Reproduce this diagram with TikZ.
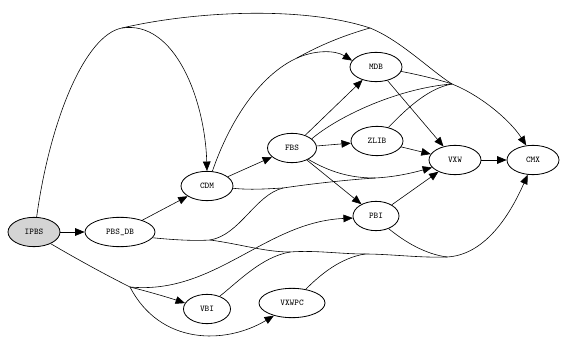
\documentclass[tikz,border=0pt]{standalone}
\usepackage{tikz}
\usetikzlibrary{arrows.meta,shapes.geometric}

\begin{document}
\begin{tikzpicture}[x=0.03cm, y=-0.03cm,
    nd/.style={draw, ellipse, line width=0.7pt, inner sep=0pt, minimum width=1.56cm, minimum height=0.88cm, font=\ttfamily\fontsize{7.5}{8}\selectfont},
    arr/.style={-{Triangle[length=8pt,width=6.5pt]}, line width=0.5pt},
    ln/.style={line width=0.5pt}
]
\useasboundingbox (0,0) rectangle (565,344);
\node[nd, fill=black!17] (IPBS) at (34,232) {IPBS};
\node[nd, minimum width=2.1cm] (PBSDB) at (120,232) {PBS\_DB};
\node[nd] (CDM) at (207,186) {CDM};
\node[nd, minimum width=1.47cm] (FBS) at (292,148) {FBS};
\node[nd] (MDB) at (376,67) {MDB};
\node[nd] (ZLIB) at (377,141) {ZLIB};
\node[nd] (VXW) at (455,160) {VXW};
\node[nd] (CMX) at (533,160) {CMX};
\node[nd, minimum width=1.38cm] (PBI) at (376,216) {PBI};
\node[nd, minimum width=1.41cm] (VBI) at (207,309) {VBI};
\node[nd, minimum width=1.98cm] (VXWPC) at (292,303) {VXWPC};

% merge points of the concentrated edges
\coordinate (jTop) at (122,28);
\coordinate (jA) at (370,28);
\coordinate (jB) at (452,84);
\coordinate (jC) at (297,58);
\coordinate (jD) at (130,287);
\coordinate (jE) at (210,240);
\coordinate (jF) at (283,188);
\coordinate (jG) at (375,178);
\coordinate (jH) at (290,252);
\coordinate (jI) at (365,254);
\coordinate (jK) at (447,257);

\draw[arr] (IPBS) -- (PBSDB);
\draw[arr] (PBSDB) -- (CDM);
\draw[arr] (CDM) -- (FBS);
\draw[arr] (FBS) -- (MDB);
\draw[arr] (FBS) -- (ZLIB);
\draw[arr] (FBS) -- (PBI);
\draw[arr] (MDB) -- (VXW);
\draw[arr] (ZLIB) -- (VXW);
\draw[arr] (PBI) -- (VXW);
\draw[arr] (VXW) -- (CMX);

% upper part
\draw[ln] (IPBS.80) .. controls (50,120) and (85,35) .. (jTop);
\draw[arr] (jTop) .. controls (175,20) and (205,100) .. (CDM.north);
\draw[ln] (jTop) .. controls (190,12) and (300,5) .. (jA);
\draw[ln] (CDM.70) .. controls (230,120) and (260,75) .. (jC);
\draw[arr] (jC) .. controls (315,50) and (335,50) .. (MDB.165);
\draw[ln] (jC) .. controls (320,45) and (345,35) .. (jA);
\draw[ln] (jA) .. controls (400,40) and (430,70) .. (jB);
\draw[ln] (MDB.-10) .. controls (420,75) and (440,80) .. (jB);
\draw[ln] (FBS.25) .. controls (340,115) and (400,88) .. (jB);
\draw[ln] (ZLIB.50) .. controls (410,105) and (430,88) .. (jB);
\draw[arr] (jB) .. controls (480,95) and (510,120) .. (CMX.115);

% lower part
\draw[ln] (IPBS.-35) .. controls (70,255) and (100,272) .. (jD);
\draw[arr] (jD) .. controls (150,292) and (170,298) .. (VBI.165);
\draw[arr] (jD) .. controls (160,345) and (225,345) .. (VXWPC.215);
\draw[arr] (jD) .. controls (215,295) and (265,222) .. (PBI.185);
\draw[ln] (PBSDB.-10) .. controls (175,240) and (195,241) .. (jE);
\draw[ln] (jE) .. controls (240,235) and (255,195) .. (jF);
\draw[ln] (CDM.-5) .. controls (250,190) and (265,189) .. (jF);
\draw[ln] (jF) .. controls (310,184) and (345,180) .. (jG);
\draw[ln] (FBS.-35) .. controls (330,172) and (350,178) .. (jG);
\draw[arr] (jG) .. controls (395,177) and (412,173) .. (VXW.198);
\draw[ln] (jE) .. controls (240,244) and (265,252) .. (jH);
\draw[ln] (VBI.45) .. controls (240,280) and (262,257) .. (jH);
\draw[ln] (jH) .. controls (315,250) and (340,254) .. (jI);
\draw[ln] (VXWPC.45) .. controls (320,275) and (340,258) .. (jI);
\draw[ln] (jI) .. controls (390,254) and (420,258) .. (jK);
\draw[ln] (PBI.-45) .. controls (405,242) and (425,254) .. (jK);
\draw[arr] (jK) .. controls (485,255) and (510,215) .. (CMX.250);
\end{tikzpicture}
\end{document}
